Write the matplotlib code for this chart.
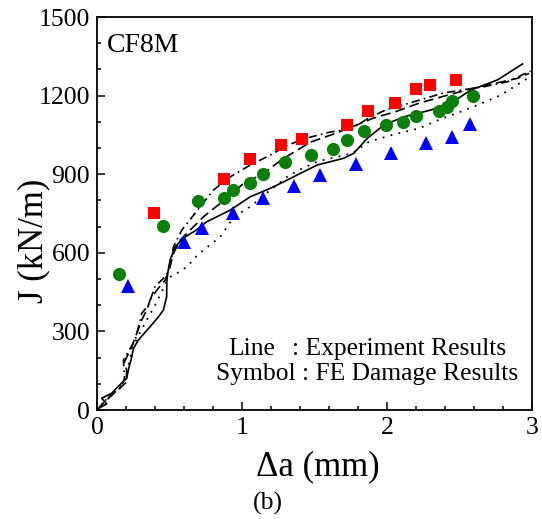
import matplotlib
matplotlib.use('Agg')
import matplotlib.pyplot as plt
from matplotlib.ticker import MultipleLocator

plt.rcParams['font.family'] = ['Liberation Serif', 'DejaVu Serif']

# experiment curves (crack growth vs J)
solid_da = [0.0, 0.009, 0.067, 0.032, 0.101, 0.15, 0.205, 0.216, 0.240, 0.251, 0.285,
            0.366, 0.424, 0.458, 0.480, 0.482, 0.490, 0.504, 0.539, 0.597, 0.68, 0.758,
            0.919, 1.057, 1.127, 1.218, 1.334, 1.380, 1.518, 1.702, 1.771, 1.864, 1.979,
            2.117, 2.301, 2.440, 2.578, 2.762, 2.935]
solid_j = [0, 6, 23, 45, 64, 92, 121, 153, 204, 235, 267,
           318, 356, 382, 432, 496, 530, 573, 623, 657, 685, 719,
           763, 814, 830, 852, 884, 897, 935, 961, 980, 1037, 1088,
           1119, 1145, 1171, 1221, 1260, 1321]

dashed_da = [0.0, 0.05, 0.1, 0.14, 0.2, 0.205, 0.19, 0.24, 0.274, 0.309, 0.343, 0.366,
             0.413, 0.47, 0.504, 0.527, 0.574, 0.643, 0.735, 0.83, 0.92, 1.0, 1.15,
             1.27, 1.38, 1.48, 1.645, 1.76, 1.9, 2.06, 2.22, 2.38, 2.6, 2.9, 2.98]
dashed_j = [0, 30, 55, 75, 105, 150, 185, 242, 293, 344, 382, 420,
            458, 496, 547, 598, 649, 687, 738, 780, 820, 860, 904,
            954, 992, 1024, 1056, 1081, 1113, 1139, 1171, 1196, 1229, 1266, 1285]

dashdot_da = [0.0, 0.04, 0.09, 0.159, 0.19, 0.182, 0.263, 0.309, 0.355, 0.4, 0.435,
              0.48, 0.51, 0.527, 0.585, 0.712, 0.804, 0.919, 1.057, 1.13, 1.22, 1.3,
              1.44, 1.6, 1.76, 1.875, 1.99, 2.151, 2.267, 2.382, 2.509, 2.67, 2.831, 2.99]
dashdot_j = [0, 25, 57, 83, 120, 191, 267, 369, 401, 471, 490,
             515, 570, 623, 687, 776, 840, 890, 935, 955, 980, 1008,
             1037, 1060, 1075, 1115, 1145, 1171, 1190, 1209, 1221, 1234, 1253, 1294]

dotted_da = [0.0, 0.05, 0.1, 0.16, 0.2, 0.228, 0.26, 0.3, 0.35, 0.4, 0.45, 0.48, 0.52,
             0.574, 0.631, 0.69, 0.735, 0.85, 0.92, 0.965, 1.057, 1.196, 1.311, 1.4,
             1.529, 1.76, 1.875, 2.036, 2.22, 2.382, 2.6, 2.785, 2.97]
dotted_j = [0, 30, 58, 88, 130, 200, 255, 300, 350, 400, 455, 495, 515,
            528, 553, 590, 611, 661, 718, 745, 776, 840, 890, 918,
            950, 980, 1024, 1050, 1075, 1113, 1158, 1202, 1266]

# FE damage results
square_da = [0.394, 0.878, 1.057, 1.27, 1.417, 1.721, 1.871, 2.053, 2.203, 2.294, 2.474]
square_j = [753, 883, 958, 1011, 1034, 1088, 1142, 1172, 1226, 1240, 1260]

circle_da = [0.152, 0.454, 0.693, 0.876, 0.935, 1.057, 1.145, 1.299, 1.479, 1.629,
             1.721, 1.840, 1.992, 2.113, 2.203, 2.355, 2.412, 2.446, 2.596]
circle_j = [519, 701, 797, 809, 840, 865, 900, 947, 973, 995,
            1031, 1064, 1089, 1099, 1121, 1141, 1158, 1181, 1198]

triangle_da = [0.212, 0.601, 0.724, 0.938, 1.145, 1.359, 1.541, 1.783, 2.025, 2.267,
               2.446, 2.569]
triangle_j = [474, 642, 696, 751, 808, 856, 897, 940, 980, 1019, 1041, 1092]

fig = plt.figure(figsize=(5.42, 5.19), dpi=100)
ax = fig.add_axes([0.179, 0.210, 0.8026, 0.7572])

ax.plot(solid_da, solid_j, color='black', lw=1.2, ls='-')
ax.plot(dashed_da, dashed_j, color='black', lw=1.2, dashes=(6, 3))
ax.plot(dashdot_da, dashdot_j, color='black', lw=1.2, dashes=(5, 2.5, 1, 2.5))
ax.plot(dotted_da, dotted_j, color='black', lw=1.3, dashes=(1, 3.5))

ax.plot(square_da, square_j, 's', color='#ff0000', ms=8.5, mew=0)
ax.plot(circle_da, circle_j, 'o', color='#0a800a', ms=9.5, mew=0)
ax.plot(triangle_da, triangle_j, '^', color='#0000ff', ms=10.5, mew=0)

ax.set_xlim(0, 3)
ax.set_ylim(0, 1500)
ax.set_xticks([0, 1, 2, 3])
ax.set_yticks([0, 300, 600, 900, 1200, 1500])
ax.xaxis.set_minor_locator(MultipleLocator(0.2))
ax.yaxis.set_minor_locator(MultipleLocator(100))
ax.tick_params(which='both', direction='in', top=False, right=False,
               labelsize=18.5, width=1.1)
ax.tick_params(which='major', length=6, pad=5)
ax.tick_params(which='minor', length=3)
for sp in ax.spines.values():
    sp.set_linewidth(1.3)

ax.set_xlabel('Δa (mm)', fontsize=25)
ax.set_ylabel('J (kN/m)', fontsize=25)
ax.xaxis.set_label_coords(0.508, -0.103)
ax.yaxis.set_label_coords(-0.145, 0.43)
ax.yaxis.label.set_va('center')

ax.text(0.023, 0.911, 'CF8M', transform=ax.transAxes, fontsize=20, va='baseline')
ax.text(0.301, 0.140, 'Line', transform=ax.transAxes, fontsize=18.4, va='baseline')
ax.text(0.448, 0.140, ': Experiment Results', transform=ax.transAxes,
        fontsize=18.4, va='baseline')
ax.text(0.274, 0.076, 'Symbol : FE Damage Results', transform=ax.transAxes,
        fontsize=18.4, va='baseline')

fig.text(0.495, 0.018, '(b)', fontsize=18.5, ha='center', va='baseline')

fig.savefig('out.png', dpi=100)
